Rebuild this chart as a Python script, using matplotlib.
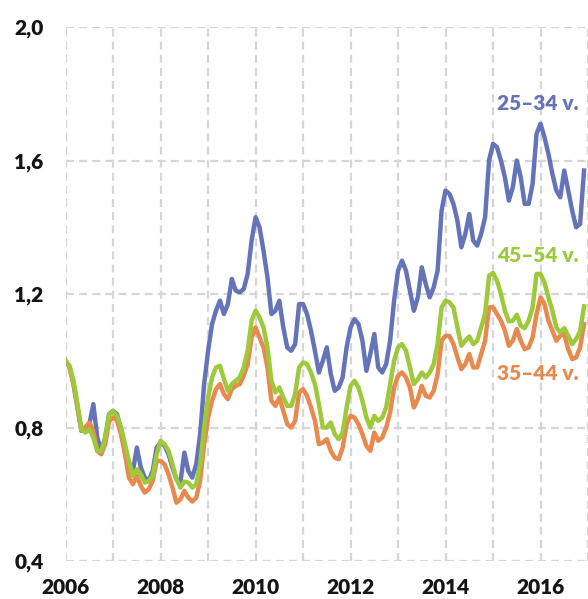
import numpy as np
import matplotlib
matplotlib.use("Agg")
import matplotlib.pyplot as plt
from matplotlib.ticker import FixedLocator

plt.rcParams['font.family'] = ['Lato', 'DejaVu Sans']

# monthly index values, Jan 2006 .. Dec 2016
start_year = 2006
age_25_34 = [
    1.00, 0.98, 0.93, 0.86, 0.79, 0.80, 0.81, 0.87, 0.77, 0.73, 0.77, 0.84,
    0.85, 0.84, 0.79, 0.73, 0.68, 0.67, 0.74, 0.68, 0.65, 0.64, 0.67, 0.74,
    0.755, 0.745, 0.72, 0.68, 0.645, 0.635, 0.725, 0.67, 0.65, 0.69, 0.78, 0.93,
    1.03, 1.11, 1.15, 1.18, 1.14, 1.17, 1.245, 1.21, 1.205, 1.215, 1.26, 1.36,
    1.43, 1.40, 1.33, 1.25, 1.14, 1.15, 1.18, 1.10, 1.04, 1.03, 1.05, 1.17,
    1.17, 1.14, 1.09, 1.03, 0.965, 1.00, 1.04, 0.96, 0.91, 0.92, 0.95, 1.04,
    1.10, 1.125, 1.11, 1.06, 0.97, 1.02, 1.08, 0.98, 0.965, 0.99, 1.06, 1.18,
    1.27, 1.30, 1.27, 1.21, 1.15, 1.19, 1.28, 1.23, 1.19, 1.22, 1.27, 1.45,
    1.51, 1.50, 1.47, 1.42, 1.34, 1.38, 1.44, 1.36, 1.345, 1.38, 1.43, 1.60,
    1.65, 1.64, 1.60, 1.55, 1.48, 1.52, 1.60, 1.55, 1.47, 1.47, 1.53, 1.68,
    1.71, 1.67, 1.62, 1.56, 1.51, 1.49, 1.57, 1.51, 1.45, 1.40, 1.41, 1.57,
]
age_45_54 = [
    1.00, 0.985, 0.94, 0.87, 0.795, 0.785, 0.795, 0.77, 0.73, 0.73, 0.77, 0.84,
    0.85, 0.835, 0.80, 0.75, 0.70, 0.655, 0.675, 0.66, 0.635, 0.64, 0.655, 0.72,
    0.76, 0.75, 0.73, 0.69, 0.645, 0.62, 0.638, 0.635, 0.62, 0.63, 0.69, 0.80,
    0.89, 0.95, 0.98, 0.985, 0.945, 0.91, 0.93, 0.94, 0.95, 0.98, 1.03, 1.12,
    1.15, 1.13, 1.10, 1.04, 0.94, 0.905, 0.92, 0.89, 0.865, 0.865, 0.90, 0.98,
    0.995, 0.99, 0.965, 0.93, 0.87, 0.80, 0.80, 0.815, 0.78, 0.765, 0.785, 0.86,
    0.925, 0.94, 0.92, 0.88, 0.83, 0.80, 0.835, 0.82, 0.83, 0.86, 0.93, 1.00,
    1.04, 1.05, 1.03, 0.98, 0.93, 0.945, 0.965, 0.95, 0.965, 0.99, 1.05, 1.16,
    1.18, 1.175, 1.16, 1.10, 1.045, 1.06, 1.073, 1.05, 1.06, 1.10, 1.14, 1.255,
    1.263, 1.24, 1.20, 1.15, 1.118, 1.12, 1.138, 1.105, 1.098, 1.12, 1.16, 1.26,
    1.26, 1.235, 1.19, 1.15, 1.10, 1.085, 1.098, 1.075, 1.05, 1.065, 1.088, 1.163,
]
age_35_44 = [
    1.00, 0.98, 0.93, 0.86, 0.79, 0.80, 0.815, 0.79, 0.73, 0.72, 0.75, 0.82,
    0.83, 0.82, 0.78, 0.72, 0.65, 0.63, 0.655, 0.625, 0.605, 0.615, 0.64, 0.70,
    0.70, 0.69, 0.66, 0.62, 0.575, 0.585, 0.61, 0.59, 0.578, 0.59, 0.64, 0.75,
    0.83, 0.88, 0.915, 0.93, 0.90, 0.885, 0.915, 0.925, 0.93, 0.955, 0.99, 1.07,
    1.10, 1.07, 1.04, 0.98, 0.88, 0.865, 0.89, 0.85, 0.81, 0.80, 0.82, 0.905,
    0.915, 0.895, 0.86, 0.82, 0.75, 0.755, 0.765, 0.73, 0.71, 0.705, 0.74, 0.81,
    0.835, 0.83, 0.81, 0.78, 0.745, 0.73, 0.785, 0.76, 0.77, 0.80, 0.845, 0.92,
    0.955, 0.965, 0.95, 0.92, 0.86, 0.885, 0.925, 0.895, 0.89, 0.91, 0.96, 1.06,
    1.075, 1.074, 1.05, 1.01, 0.975, 0.99, 1.02, 0.98, 0.98, 1.02, 1.06, 1.16,
    1.16, 1.14, 1.12, 1.09, 1.045, 1.06, 1.095, 1.06, 1.035, 1.04, 1.07, 1.14,
    1.19, 1.17, 1.12, 1.09, 1.06, 1.075, 1.08, 1.035, 1.005, 1.01, 1.04, 1.11,
]
series_labels = ["25–34 v.", "45–54 v.", "35–44 v."]
y_ticks = [0.4, 0.8, 1.2, 1.6, 2.0]
y_tick_labels = ["0,4", "0,8", "1,2", "1,6", "2,0"]
x_ticks = [2006, 2008, 2010, 2012, 2014, 2016]
x_minor = [2007, 2009, 2011, 2013, 2015, 2017]

c_blue = "#6574B8"
c_green = "#9DC93A"
c_orange = "#E8894E"
txt = "#141414"

t = start_year + np.arange(len(age_25_34)) / 12.0

fig = plt.figure(figsize=(5.88, 5.99), dpi=100)
ax = fig.add_axes([0.1116, 0.0634, 0.8884, 0.8915])

lw = 3.2
ax.plot(t, age_25_34, color=c_blue, lw=lw, zorder=3)
ax.plot(t, age_35_44, color=c_orange, lw=lw, zorder=4)
ax.plot(t, age_45_54, color=c_green, lw=lw, zorder=5)

ax.set_xlim(2006, 2017.0)
ax.set_ylim(0.4, 2.0)
ax.xaxis.set_major_locator(FixedLocator(x_ticks))
ax.xaxis.set_minor_locator(FixedLocator(x_minor))
ax.set_xticklabels([str(x) for x in x_ticks])
ax.set_yticks(y_ticks)
ax.set_yticklabels(y_tick_labels)

grid_kw = dict(color="#d6d6d6", lw=1.6, linestyle=(0, (3.6, 2.3)))
ax.grid(True, which="both", axis="x", **grid_kw)
ax.grid(True, which="major", axis="y", **grid_kw)
ax.set_axisbelow(True)

for s in ax.spines.values():
    s.set_visible(False)
ax.tick_params(axis="both", which="both", length=0)
ax.tick_params(axis="x", pad=12, labelsize=15, labelcolor=txt)
ax.tick_params(axis="y", pad=16, labelsize=15, labelcolor=txt)
for lab in ax.get_xticklabels() + ax.get_yticklabels():
    lab.set_fontweight("heavy")

ax.text(2015.09, 1.77, series_labels[0], color=c_blue, fontsize=15,
        fontweight="heavy", ha="left", va="center")
ax.text(2015.09, 1.316, series_labels[1], color=c_green, fontsize=15,
        fontweight="heavy", ha="left", va="center")
ax.text(2015.09, 0.963, series_labels[2], color=c_orange, fontsize=15,
        fontweight="heavy", ha="left", va="center")

fig.savefig("out.png", dpi=100)
